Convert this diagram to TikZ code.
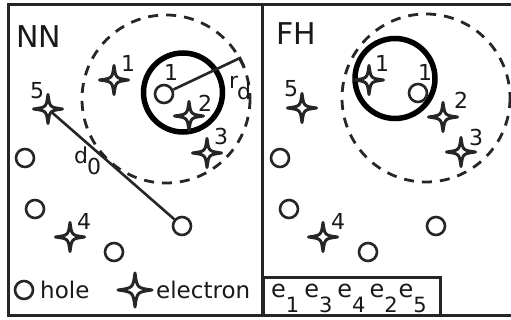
\documentclass[tikz,border=0pt]{standalone}
\usepackage{fontspec}
\setmainfont{DejaVu Sans}
\begin{document}
\begin{tikzpicture}[x=1pt,y=-1pt,
  frame/.style={line width=3pt, draw=black!85},
  dashcirc/.style={line width=2.8pt, dash pattern=on 10pt off 8pt, draw=black!85},
  thickcirc/.style={line width=5.5pt, draw=black},
  hole/.style={circle, draw=black!85, line width=2.6pt, fill=white, minimum size=18pt, inner sep=0pt},
  lbl/.style={font=\fontsize{22}{25}\selectfont, inner sep=0pt, text=black!90},
  ttl/.style={font=\fontsize{30}{34}\selectfont, inner sep=0pt, text=black!90},
  leg/.style={font=\fontsize{23}{26}\selectfont, inner sep=0pt, text=black!90, anchor=west},
  conn/.style={line width=2.6pt, draw=black!85},
  pics/estar/.style={code={\draw[line width=3pt, draw=black!85, fill=white, line join=round]
     (0,-#1) .. controls (0.12*#1,-0.12*#1) .. (#1,0)
     .. controls (0.12*#1,0.12*#1) .. (0,#1)
     .. controls (-0.12*#1,0.12*#1) .. (-#1,0)
     .. controls (-0.12*#1,-0.12*#1) .. cycle;}}
]
\newcommand{\lowd}[1]{\raisebox{-0.5em}{#1}}
\newcommand{\subd}[1]{\raisebox{-14pt}{\fontsize{21}{24}\selectfont #1}}
\useasboundingbox (0,0) rectangle (511,320);
\fill[white] (0,0) rectangle (511,320);

% ---------- left panel NN ----------
\draw[frame] (8,5) rectangle (262,315);
\node[ttl] (tNN) at (39,37) {NN};
\draw[dashcirc] (166,99) circle (84);
\draw[thickcirc] (183,92.5) circle (39.5);

\coordinate (Ls1) at (114,80);
\coordinate (Ls2) at (189,116);
\coordinate (Ls3) at (207,153);
\coordinate (Ls4) at (70,237);
\coordinate (Ls5) at (48,109);
\node[hole] (Lh1) at (164,94) {};
\node[hole] (Lh2) at (25,158) {};
\node[hole] (Lh3) at (35,209) {};
\node[hole] (Lh4) at (114,252) {};
\node[hole] (Lh5) at (182,226) {};

% r_d
\coordinate (rdend) at (240,58);
\coordinate (rdtick) at (244.5,67.5);
\draw[conn] (Lh1) -- (rdend) -- (rdtick);
\node[lbl, anchor=north west] (rdlab) at (229,76) {r\kern-1pt\lowd{d}};

% d_0
\draw[conn] (Ls5) -- (Lh5);
\node[lbl, anchor=north west] (d0lab) at (74,147) {d\kern-1pt\lowd{0}};

\pic at (Ls1) {estar=14.5};
\pic at (Ls2) {estar=14.5};
\pic at (Ls3) {estar=14.5};
\pic at (Ls4) {estar=14.5};
\pic at (Ls5) {estar=14.5};

\node[lbl] (Ll1) at (128,63) {1};
\node[lbl] (Llh1) at (171,72) {1};
\node[lbl] (Ll2) at (205,103) {2};
\node[lbl] (Ll3) at (221,136) {3};
\node[lbl] (Ll4) at (84,221) {4};
\node[lbl] (Ll5) at (37,91) {5};

% legend
\node[hole] (leghole) at (24,290) {};
\node[leg] (legholet) at (40,290) {hole};
\coordinate (legstar) at (135,290);
\pic at (legstar) {estar=17};
\node[leg] (legelt) at (156,290) {electron};

% ---------- right panel FH ----------
\draw[frame] (511,5) -- (262,5) -- (262,315) -- (511,315);
\node[ttl] (tFH) at (296,34) {FH};
\draw[dashcirc] (426,98) circle (84);
\draw[thickcirc] (395,78.5) circle (40);

\coordinate (Rs1) at (369,80);
\coordinate (Rs2) at (443,117);
\coordinate (Rs3) at (461,152);
\coordinate (Rs4) at (323,237);
\coordinate (Rs5) at (302,108);
\node[hole] (Rh1) at (418,93) {};
\node[hole] (Rh2) at (280,158) {};
\node[hole] (Rh3) at (289,209) {};
\node[hole] (Rh4) at (368,252) {};
\node[hole] (Rh5) at (436,226) {};

\pic at (Rs1) {estar=14.5};
\pic at (Rs2) {estar=14.5};
\pic at (Rs3) {estar=14.5};
\pic at (Rs4) {estar=14.5};
\pic at (Rs5) {estar=14.5};

\node[lbl] (Rl1) at (382,63) {1};
\node[lbl] (Rlh1) at (425,72) {1};
\node[lbl] (Rl2) at (461,100) {2};
\node[lbl] (Rl3) at (476,137) {3};
\node[lbl] (Rl4) at (338,221) {4};
\node[lbl] (Rl5) at (291,89) {5};

% order box
\draw[frame] (263,277) rectangle (440,315);
\node[inner sep=0pt, anchor=base west, font=\fontsize{24}{26}\selectfont, text=black!90] (ord) at (271,298)
 {e\subd{1}\hspace{5pt}e\subd{3}\hspace{5pt}e\subd{4}\hspace{4pt}e\subd{2}\hspace{1pt}e\subd{5}};
\end{tikzpicture}
\end{document}
